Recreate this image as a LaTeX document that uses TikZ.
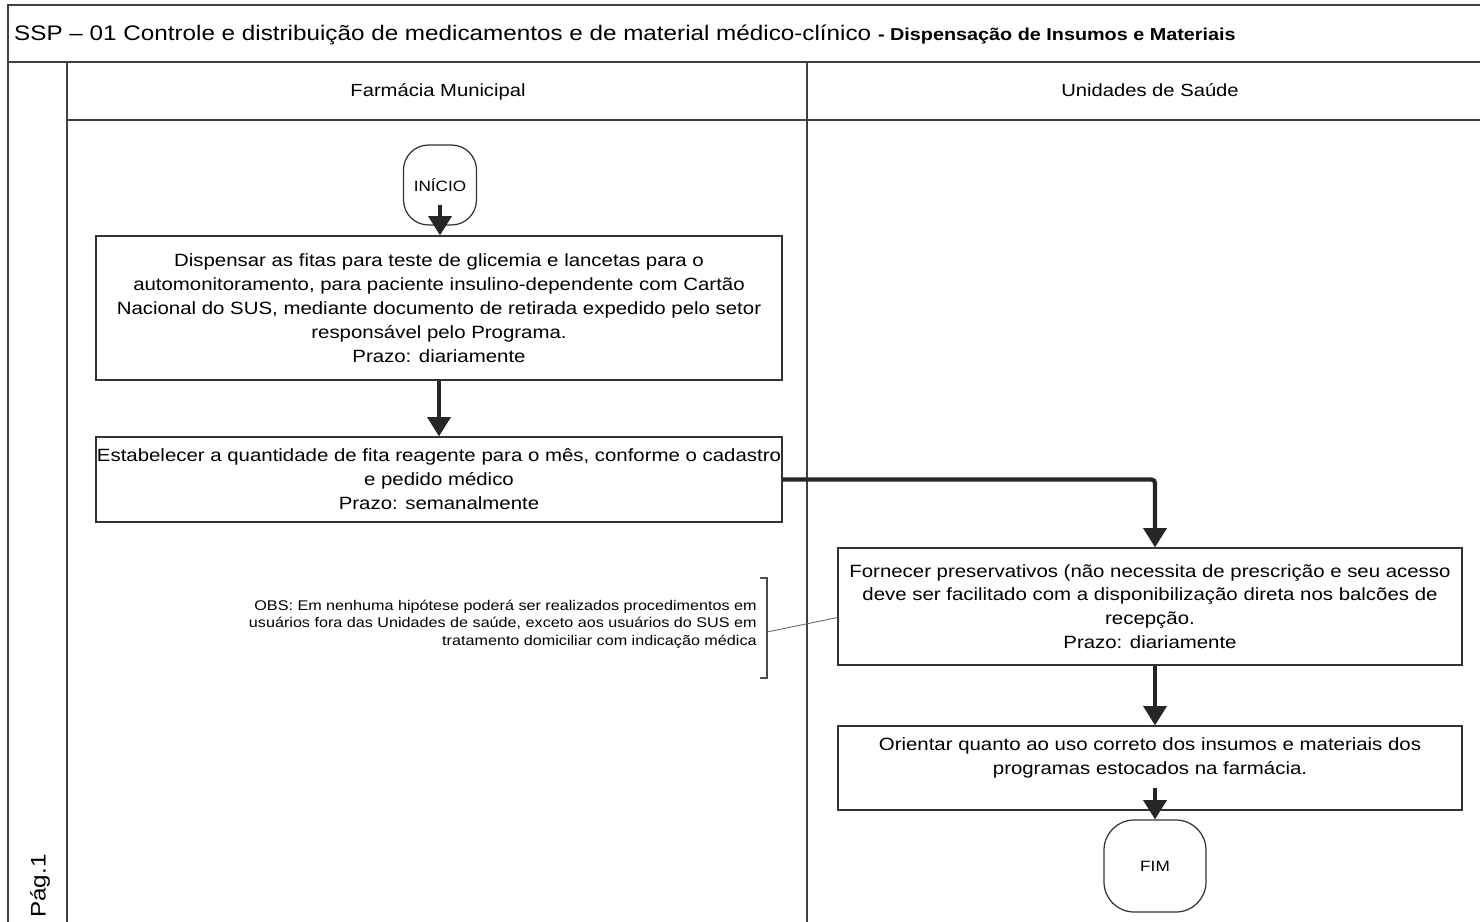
\documentclass[tikz,border=0pt]{standalone}
\usepackage{fontspec}
\setmainfont[FakeStretch=1.15]{Liberation Sans}
\usetikzlibrary{arrows.meta}
\tikzstyle{moldura}=[draw=black!75, line width=0.8pt]
\tikzstyle{acao}=[draw=black!80, line width=0.7pt, align=center, inner sep=0pt, font=\fontsize{10.1}{13.6}\selectfont]
\tikzstyle{terminal}=[draw=black!80, line width=0.7pt, rounded corners=0.5cm, inner sep=0pt, font=\fontsize{8.5}{10}\selectfont]
\tikzstyle{raia}=[font=\fontsize{10}{12}\selectfont]
\tikzstyle{fluxo}=[line width=2.4pt, black!85, -{Triangle[width=13pt,length=11pt]}]

\begin{document}
\begin{tikzpicture}[x=0.02cm, y=-0.02cm]
				\useasboundingbox (0,0) rectangle (1480,922);
				% moldura e raias
				\draw[moldura] (1480,5) -- (8,5) -- (8,922);
				\draw[moldura] (8,62) -- (1480,62);
				\draw[moldura] (67,120) -- (1480,120);
				\draw[moldura] (67,62) -- (67,922);
				\draw[moldura] (807,62) -- (807,922);
				\node[anchor=west] (titulo) at (8,35) {\fontsize{12}{14}\selectfont SSP -- 01 Controle e distribuição de medicamentos e de material médico-clínico \fontsize{9.8}{12}\selectfont\bfseries - Dispensação de Insumos e Materiais};
				\node[raia] (farmacia) at (438,92) {Farmácia Municipal};
				\node[raia] (unidades) at (1150,90) {Unidades de Saúde};
				\node[rotate=90, font=\fontsize{12}{14}\selectfont] (pagina) at (40,886) {Pág.1};
				% etapas
				\node[terminal, minimum width=1.46cm, minimum height=1.6cm] (inicio) at (440,185) {INÍCIO};
				\node[acao, minimum width=13.72cm, minimum height=2.88cm] (dispensar) at (439,308) {Dispensar as fitas para teste de glicemia e lancetas para o\\ automonitoramento, para paciente insulino-dependente com Cartão\\ Nacional do SUS, mediante documento de retirada expedido pelo setor\\ responsável pelo Programa.\\ Prazo: diariamente};
				\node[acao, minimum width=13.72cm, minimum height=1.7cm] (estabelecer) at (439,479.5) {Estabelecer a quantidade de fita reagente para o mês, conforme o cadastro\\ e pedido médico\\ Prazo: semanalmente};
				\node[acao, minimum width=12.48cm, minimum height=2.34cm] (fornecer) at (1150,606.5) {Fornecer preservativos (não necessita de prescrição e seu acesso\\ deve ser facilitado com a disponibilização direta nos balcões de\\ recepção.\\ Prazo: diariamente};
				\node[acao, minimum width=12.48cm, minimum height=1.68cm] (orientar) at (1150,768) {Orientar quanto ao uso correto dos insumos e materiais dos\\ programas estocados na farmácia.\\ ~};
				\node[terminal, minimum width=2.04cm, minimum height=1.84cm, rounded corners=0.6cm] (fim) at (1155,866) {FIM};
				% observacao
				\node[anchor=east, align=right, font=\fontsize{8}{10}\selectfont, inner sep=0pt] (obs) at (757,624) {OBS: Em nenhuma hipótese poderá ser realizados procedimentos em\\ usuários fora das Unidades de saúde, exceto aos usuários do SUS em\\ tratamento domiciliar com indicação médica};
				\coordinate (chave) at (767,632);
				\draw[black!70, line width=0.6pt] (760,578) -- (767,578) -- (767,678) -- (760,678);
				\draw[black!60, line width=0.5pt] (chave) -- ([yshift=-0.22cm]fornecer.west);
				% fluxo
				\draw[fluxo] ([yshift=0.42cm]inicio.south) -- (dispensar.north -| inicio.south);
				\draw[fluxo] (dispensar.south) -- (estabelecer.north);
				\draw[fluxo, rounded corners=2pt] (estabelecer.east) -| (fim.north |- fornecer.north);
				\draw[fluxo] (fornecer.south -| fim.north) -- (orientar.north -| fim.north);
				\draw[fluxo] ([yshift=0.45cm]orientar.south -| fim.north) -- (fim.north);
\end{tikzpicture}
\end{document}
